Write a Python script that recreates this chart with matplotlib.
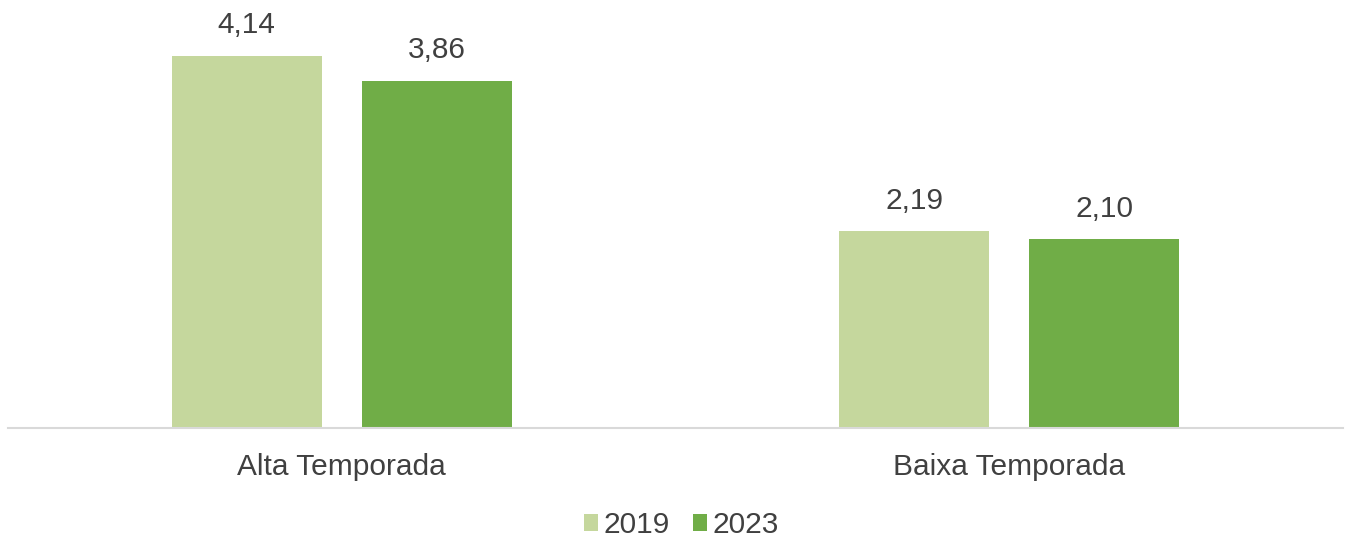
import numpy as np
import matplotlib.pyplot as plt

plt.rcParams['font.family'] = ['Liberation Sans', 'DejaVu Sans']

categorias = ['Alta Temporada', 'Baixa Temporada']
anos = ['2019', '2023']
valores_2019 = [4.14, 2.19]
valores_2023 = [3.86, 2.10]
cores = ['#C5D79D', '#70AD47']

fig = plt.figure(figsize=(13.47, 5.37), dpi=100)
ax = fig.add_axes([8 / 1347, 109 / 537, 1335 / 1347, 428 / 537])

x = np.arange(len(categorias))
largura = 0.2247
desloc = 0.1423

for serie, cor, sinal, ano in zip([valores_2019, valores_2023], cores, [-1, 1], anos):
    barras = ax.bar(x + sinal * desloc, serie, largura, color=cor, label=ano)
    for b, v in zip(barras, serie):
        ax.annotate(f'{v:.2f}'.replace('.', ','),
                    (b.get_x() + b.get_width() / 2, b.get_height()),
                    xytext=(0, 12), textcoords='offset points',
                    ha='center', va='bottom', fontsize=21.5, color='#404040')

ax.set_xlim(-0.5, 1.5)
ax.set_ylim(0, 4.763)
ax.set_xticks(x)
ax.set_xticklabels(categorias, fontsize=21.5, color='#404040')
ax.tick_params(axis='x', length=0, pad=18)
ax.set_yticks([])
for lado in ['top', 'right', 'left']:
    ax.spines[lado].set_visible(False)
ax.spines['bottom'].set_color('#D9D9D9')
ax.spines['bottom'].set_linewidth(1.5)

fig.legend(loc='center', bbox_to_anchor=(0.5 + 8 / 1347, 1 - 525 / 537), ncol=2, frameon=False,
           fontsize=21.5, labelcolor='#404040', handlelength=0.47, handleheight=0.47,
           handletextpad=0.2, columnspacing=0.75)

fig.savefig('out.png', dpi=100)
